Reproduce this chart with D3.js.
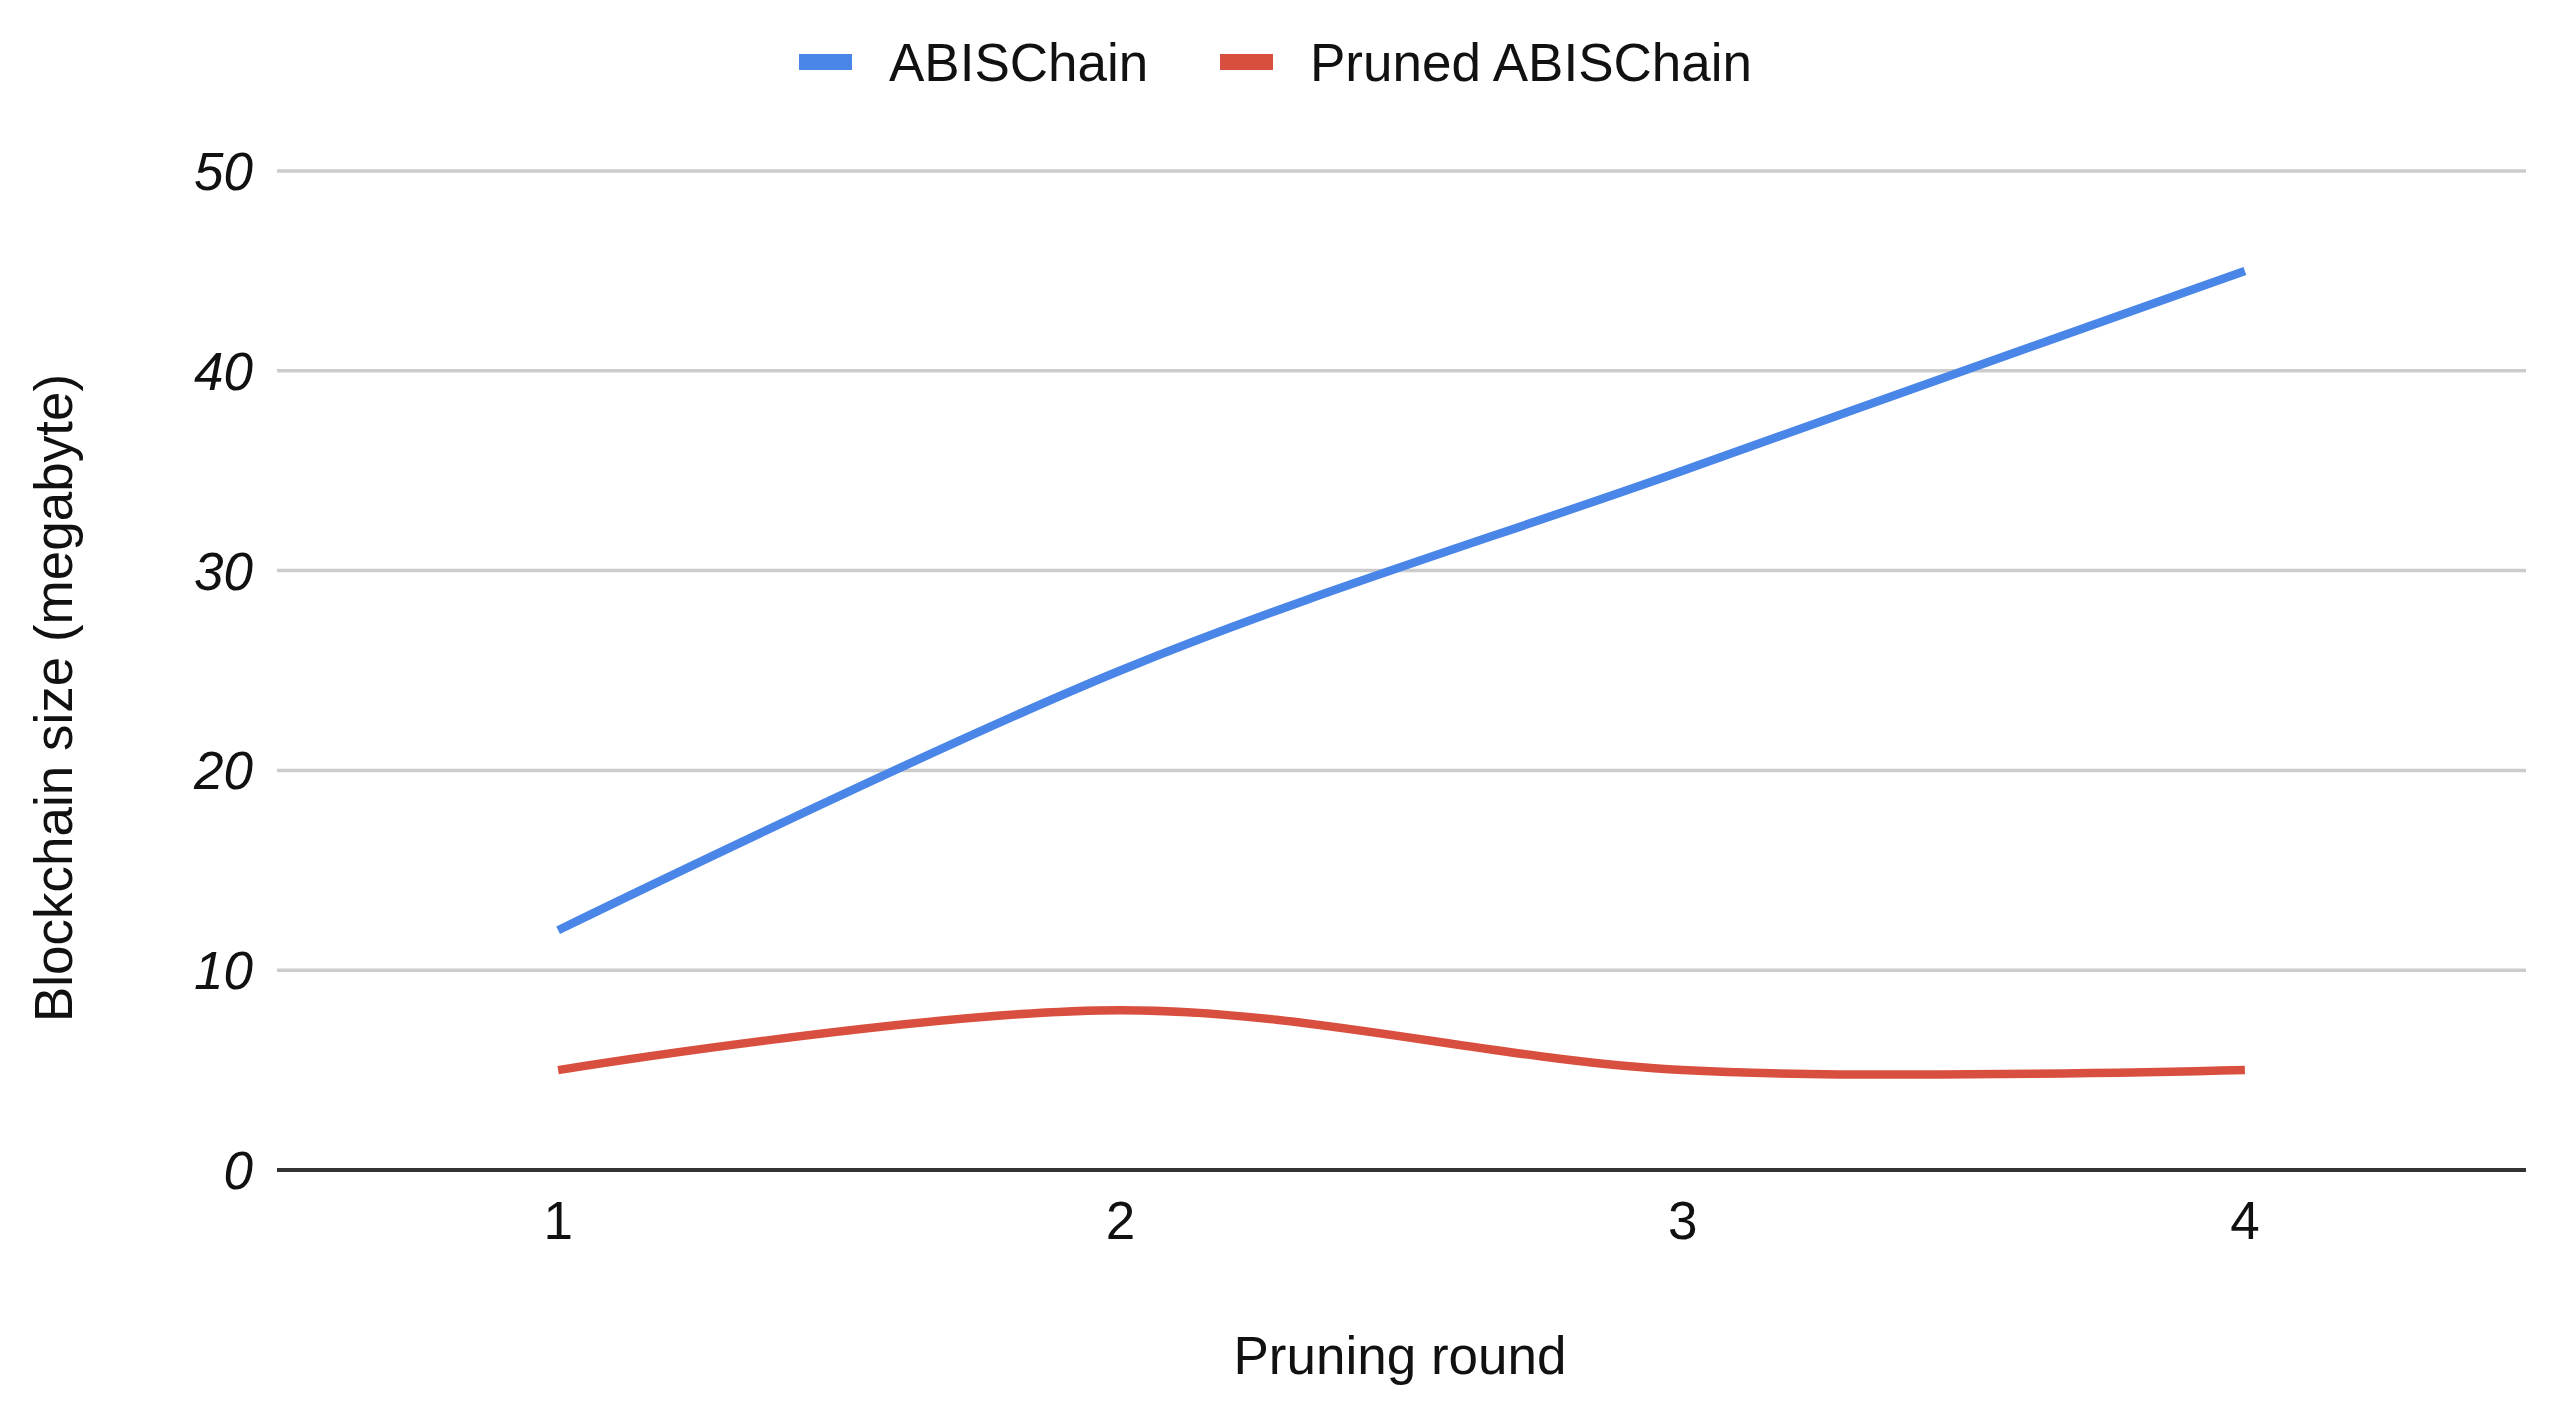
<!DOCTYPE html>
<html lang="en">
<head>
  <meta charset="UTF-8" />
  <title>Blockchain size per pruning round</title>
  <script src="https://d3js.org/d3.v7.min.js"></script>
  <style>
    body {
      margin: 0;
      background: #fff;
      font-family: "Liberation Sans", Arial, sans-serif;
    }
    .tick-label {
      font-size: 53px;
      fill: #111;
    }
    .axis-title {
      font-size: 53px;
      fill: #111;
    }
  </style>
</head>
<body>
  <div id="chart"></div>
  <script>
    // Chart data
    const rounds = ["1", "2", "3", "4"];
    const abisChain = [12, 25, 35, 45];
    const prunedChain = [5, 8, 5, 5];
    const yTicks = [0, 10, 20, 30, 40, 50];

    const seriesNames = ["ABISChain", "Pruned ABISChain"];
    const seriesColors = ["#4a86e8", "#d94f3f"];

    const width = 2558, height = 1414;
    const margin = { top: 171, right: 32, bottom: 244, left: 277 };

    const svg = d3.select("#chart")
      .append("svg")
      .attr("width", width)
      .attr("height", height);

    const x = d3.scaleBand()
      .domain(rounds)
      .range([margin.left, width - margin.right])
      .padding(0);

    const y = d3.scaleLinear()
      .domain([0, 50])
      .range([height - margin.bottom, margin.top]);

    // gridlines
    svg.append("g")
      .selectAll("line")
      .data(yTicks.filter(d => d !== 0))
      .join("line")
      .attr("x1", margin.left)
      .attr("x2", width - margin.right)
      .attr("y1", d => y(d))
      .attr("y2", d => y(d))
      .attr("stroke", "#cccccc")
      .attr("stroke-width", 3.5);

    // y tick labels (italic)
    svg.append("g")
      .selectAll("text")
      .data(yTicks)
      .join("text")
      .attr("class", "tick-label")
      .attr("x", margin.left - 24)
      .attr("y", d => y(d))
      .attr("dy", "0.36em")
      .attr("text-anchor", "end")
      .attr("font-style", "italic")
      .text(d => d);

    // x tick labels
    svg.append("g")
      .selectAll("text")
      .data(rounds)
      .join("text")
      .attr("class", "tick-label")
      .attr("x", d => x(d) + x.bandwidth() / 2)
      .attr("y", 1239)
      .attr("text-anchor", "middle")
      .text(d => d);

    // lines
    const series = [abisChain, prunedChain];
    const line = d3.line()
      .x((d, i) => x(rounds[i]) + x.bandwidth() / 2)
      .y(d => y(d))
      .curve(d3.curveCardinal.tension(0));

    svg.append("g")
      .selectAll("path")
      .data(series)
      .join("path")
      .attr("d", d => line(d))
      .attr("fill", "none")
      .attr("stroke", (d, i) => seriesColors[i])
      .attr("stroke-width", 8.5)
      .attr("stroke-linecap", "butt");

    // baseline
    svg.append("line")
      .attr("x1", margin.left)
      .attr("x2", width - margin.right)
      .attr("y1", y(0))
      .attr("y2", y(0))
      .attr("stroke", "#333")
      .attr("stroke-width", 4);

    // axis titles
    svg.append("text")
      .attr("class", "axis-title")
      .attr("x", 1400)
      .attr("y", 1374)
      .attr("text-anchor", "middle")
      .text("Pruning round");

    svg.append("text")
      .attr("class", "axis-title")
      .attr("transform", "translate(72,698) rotate(-90)")
      .attr("text-anchor", "middle")
      .text("Blockchain size (megabyte)");

    // legend
    const legendX = [799, 1220];
    const legend = svg.append("g")
      .selectAll("g")
      .data(seriesNames)
      .join("g")
      .attr("transform", (d, i) => `translate(${legendX[i]},62)`);

    legend.append("rect")
      .attr("x", 0)
      .attr("y", -8)
      .attr("width", 53)
      .attr("height", 16)
      .attr("fill", (d, i) => seriesColors[i]);

    legend.append("text")
      .attr("class", "axis-title")
      .attr("x", 90)
      .attr("y", 0)
      .attr("dy", "0.36em")
      .text(d => d);
  </script>
</body>
</html>
